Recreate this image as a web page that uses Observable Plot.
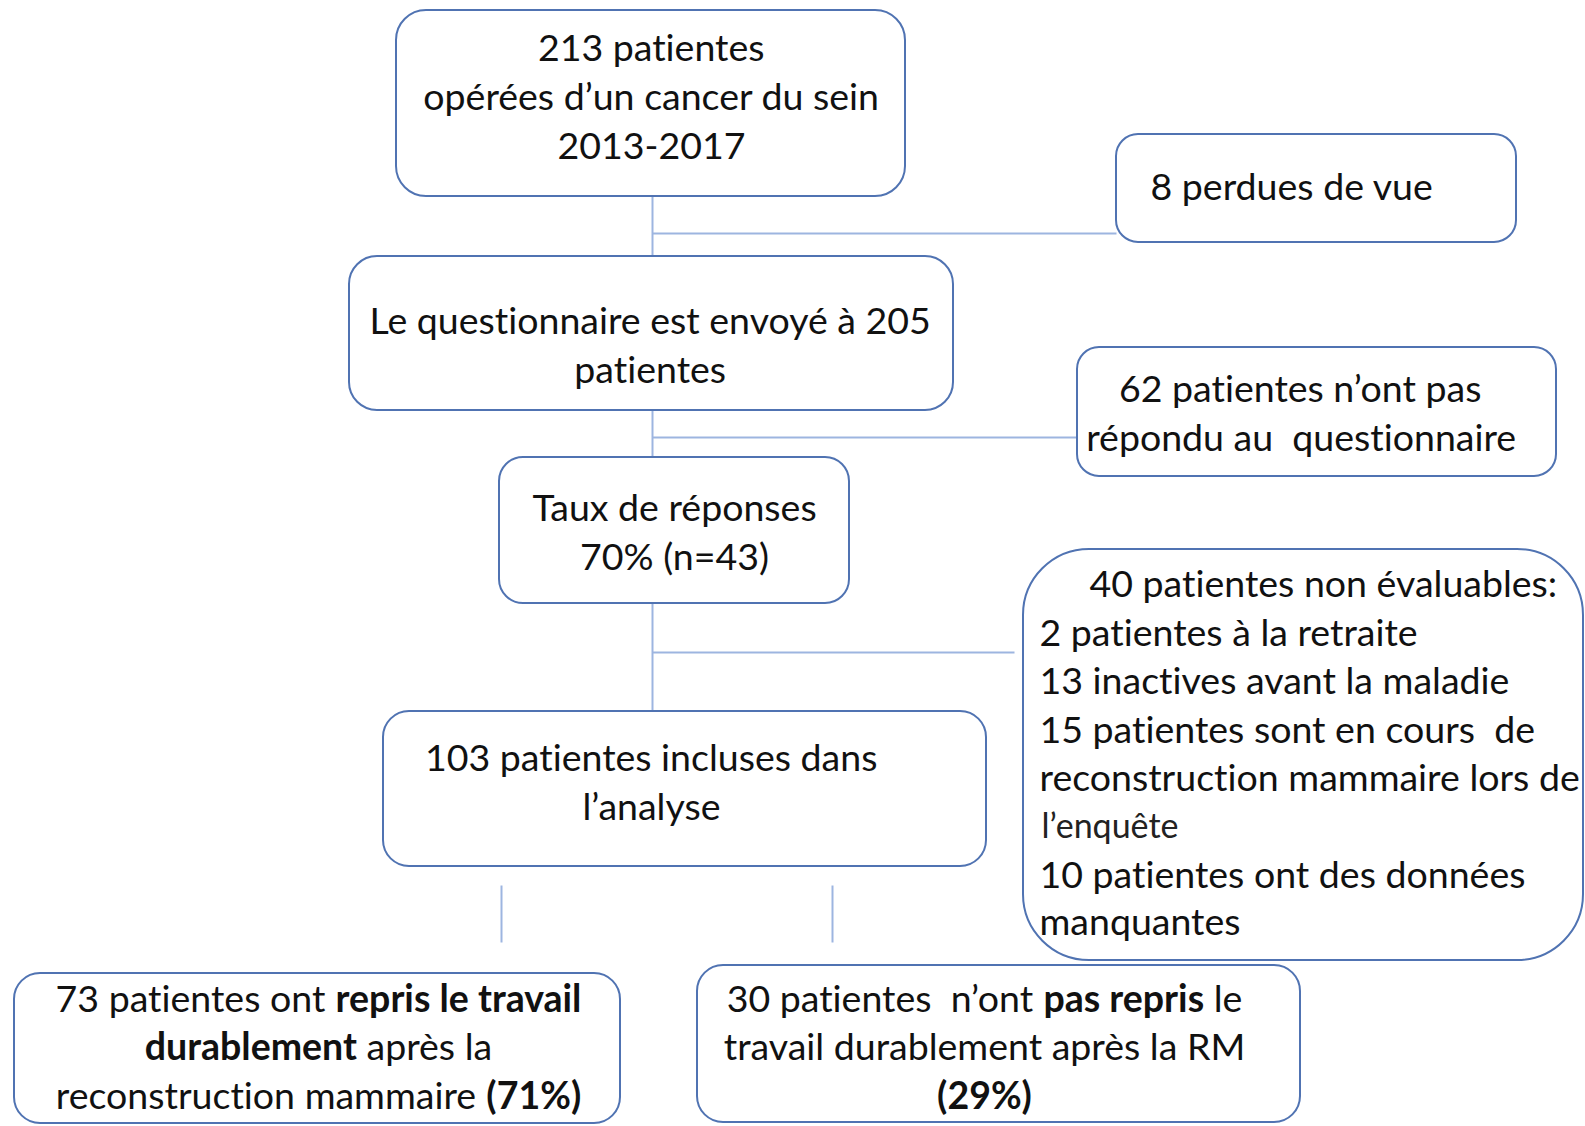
<!DOCTYPE html>
<html>
<head>
<meta charset="utf-8">
<script src="https://cdn.jsdelivr.net/npm/d3@7"></script>
<script src="https://cdn.jsdelivr.net/npm/@observablehq/plot@0.6"></script>
<style>
  html, body { margin: 0; padding: 0; background: #fff; }
  #chart svg { display: block; }
  #chart text { font-variant-ligatures: none; font-feature-settings: "liga" 0; }
</style>
</head>
<body>
<div id="chart"></div>
<script>
// Flowchart boxes (pixel layout in a 1585 x 1126 frame)
const boxes = [
  {id: "start",   x1: 396,  x2: 905,  y1: 10,  y2: 196, r: 30},
  {id: "lost",    x1: 1116, x2: 1516, y1: 134, y2: 242, r: 22},
  {id: "sent",    x1: 349,  x2: 953,  y1: 256, y2: 410, r: 28},
  {id: "noreply", x1: 1077, x2: 1556, y1: 347, y2: 476, r: 22},
  {id: "rate",    x1: 499,  x2: 849,  y1: 457, y2: 603, r: 24},
  {id: "incl",    x1: 383,  x2: 986,  y1: 711, y2: 866, r: 26},
  {id: "yes",     x1: 14,   x2: 620,  y1: 973, y2: 1123, r: 26},
  {id: "no",      x1: 697,  x2: 1300, y1: 965, y2: 1122, r: 26}
];
const bigBox = [{id: "excluded", x1: 1023, x2: 1583, y1: 549, y2: 960}];

// Connector lines
const connectors = [
  {x1: 652, y1: 196, x2: 652, y2: 256},
  {x1: 652, y1: 233, x2: 1116, y2: 233},
  {x1: 652, y1: 410, x2: 652, y2: 457},
  {x1: 652, y1: 437, x2: 1077, y2: 437},
  {x1: 652, y1: 603, x2: 652, y2: 711},
  {x1: 652, y1: 652, x2: 1014, y2: 652},
  {x1: 501, y1: 885, x2: 501, y2: 942},
  {x1: 832, y1: 885, x2: 832, y2: 942}
];

// Text lines: **...** marks bold
const lines = [
  {x: 651,  y: 48,  align: "middle", size: 37.5, text: "213 patientes"},
  {x: 651,  y: 97,  align: "middle", size: 37.5, text: "opérées d’un cancer du sein"},
  {x: 651,  y: 146, align: "middle", size: 37.5, text: "2013-2017"},
  {x: 1150, y: 187, align: "start",  size: 37.5, text: "8 perdues de vue"},
  {x: 650,  y: 321, align: "middle", size: 37.5, text: "Le questionnaire est envoyé à 205"},
  {x: 650,  y: 370, align: "middle", size: 37.5, text: "patientes"},
  {x: 1300, y: 389, align: "middle", size: 37.5, text: "62 patientes n’ont pas"},
  {x: 1301, y: 438, align: "middle", size: 37.5, text: "répondu au  questionnaire"},
  {x: 674,  y: 508, align: "middle", size: 37.5, text: "Taux de réponses"},
  {x: 674,  y: 557, align: "middle", size: 37.5, text: "70% (n=43)"},
  {x: 1089, y: 584, align: "start",  size: 37.5, text: "40 patientes non évaluables:"},
  {x: 1039, y: 633, align: "start",  size: 37.5, text: "2 patientes à la retraite"},
  {x: 1039, y: 681, align: "start",  size: 37.5, text: "13 inactives avant la maladie"},
  {x: 1039, y: 730, align: "start",  size: 37.5, text: "15 patientes sont en cours  de"},
  {x: 1039, y: 778, align: "start",  size: 37.5, text: "reconstruction mammaire lors de"},
  {x: 1041, y: 827, align: "start",  size: 34, text: "l’enquête"},
  {x: 1039, y: 875, align: "start",  size: 37.5, text: "10 patientes ont des données"},
  {x: 1039, y: 922, align: "start",  size: 37.5, text: "manquantes"},
  {x: 651,  y: 758, align: "middle", size: 37.5, text: "103 patientes incluses dans"},
  {x: 651,  y: 807, align: "middle", size: 37.5, text: "l’analyse"},
  {x: 318,  y: 999, align: "middle", size: 37.5, text: "73 patientes ont **repris le travail**"},
  {x: 318,  y: 1047, align: "middle", size: 37.5, text: "**durablement** après la"},
  {x: 318,  y: 1096, align: "middle", size: 37.5, text: "reconstruction mammaire **(71%)**"},
  {x: 984,  y: 999, align: "middle", size: 37.5, text: "30 patientes  n’ont **pas repris** le"},
  {x: 984,  y: 1047, align: "middle", size: 37.5, text: "travail durablement après la RM"},
  {x: 984,  y: 1096, align: "middle", size: 37.5, text: "**(29%)**"}
];

const FONT = "Lato, 'Open Sans', sans-serif";
const ctx = document.createElement("canvas").getContext("2d");
function measure(s, size, bold) {
  ctx.font = `${bold ? "bold " : ""}${size}px ${FONT}`;
  if ("fontVariantLigatures" in ctx) ctx.fontVariantLigatures = "none";
  return ctx.measureText(s).width;
}

// Split lines into positioned segments
const segments = [];
for (const l of lines) {
  const parts = l.text.split("**").map((t, i) => ({t, bold: i % 2 === 1})).filter(p => p.t.length);
  const widths = parts.map(p => measure(p.t, l.size, p.bold));
  const total = d3.sum(widths);
  let x = l.align === "middle" ? l.x - total / 2 : l.x;
  parts.forEach((p, i) => {
    segments.push({x, y: l.y, text: p.t, bold: p.bold, size: l.size});
    x += widths[i];
  });
}

const stroke = "#5073b2";
const lineColor = "#9db5e0";

const textOpts = {x: "x", y: "y", text: "text", textAnchor: "start", lineAnchor: "middle", fontFamily: FONT, fill: "#111"};

const chart = Plot.plot({
  width: 1585,
  height: 1126,
  margin: 0,
  x: {domain: [0, 1585], range: [0, 1585], axis: null},
  y: {domain: [0, 1126], range: [0, 1126], axis: null},
  style: {background: "#fff"},
  marks: [
    Plot.link(connectors, {x1: "x1", y1: "y1", x2: "x2", y2: "y2", stroke: lineColor, strokeWidth: 2}),
    ...boxes.map(b => Plot.rect([b], {x1: "x1", x2: "x2", y1: "y1", y2: "y2", fill: "#fff", stroke, strokeWidth: 2, rx: b.r})),
    Plot.rect(bigBox, {x1: "x1", x2: "x2", y1: "y1", y2: "y2", fill: "#fff", stroke, strokeWidth: 2, rx: 66}),
    Plot.text(segments.filter(d => !d.bold && d.size === 37.5), {...textOpts, fontSize: 37.5}),
    Plot.text(segments.filter(d => !d.bold && d.size !== 37.5), {...textOpts, fontSize: 34, fill: "#222"}),
    Plot.text(segments.filter(d => d.bold), {...textOpts, fontSize: 37.5, fontWeight: "bold"})
  ]
});
chart.querySelectorAll("text").forEach(t => t.setAttribute("xml:space", "preserve"));
chart.style.whiteSpace = "pre";
document.getElementById("chart").appendChild(chart);
</script>
</body>
</html>
